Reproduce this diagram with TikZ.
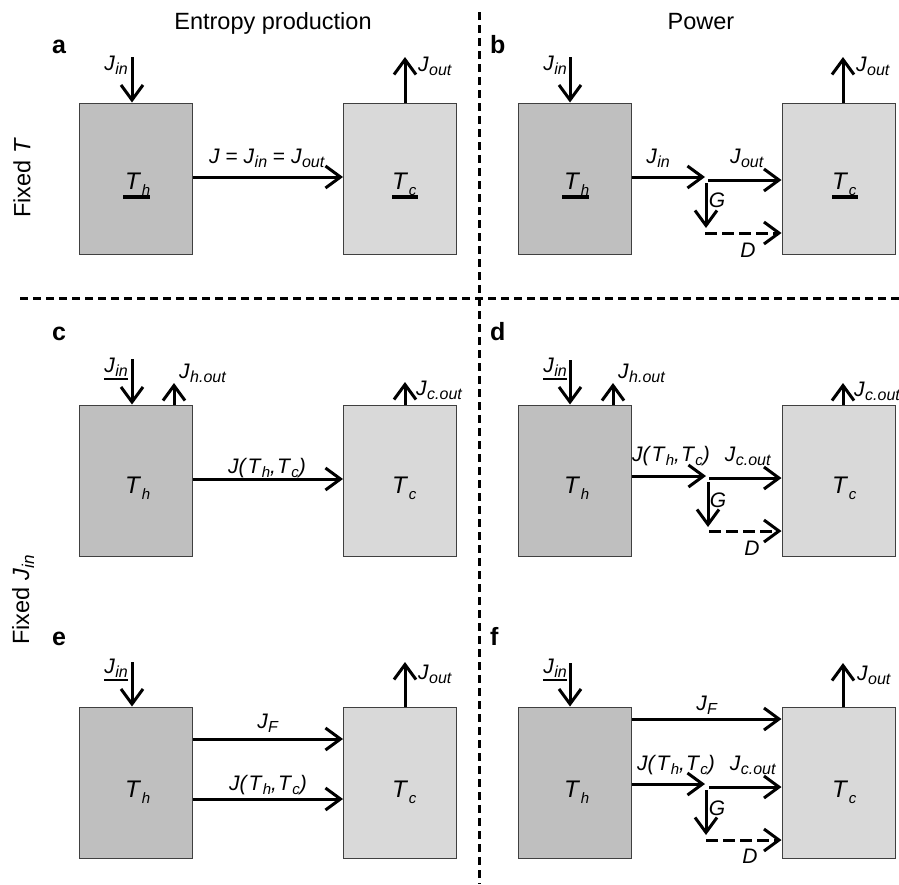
\documentclass[tikz,border=0pt]{standalone}
\usepackage{fontspec}
\setmainfont{Liberation Sans}
\usetikzlibrary{arrows.meta}
\definecolor{hotgray}{HTML}{BFBFBF}
\definecolor{coldgray}{HTML}{D9D9D9}
\newcommand\Jl[1]{\textit{J}\kern0.3pt\raisebox{-4.5pt}{\fontsize{16}{16}\selectfont\textit{#1}}}
\newcommand\Tl[1]{\textit{T}\kern0.5pt\raisebox{-6pt}{\fontsize{15}{15}\selectfont\textit{#1}}}
\newcommand\Ts[1]{\textit{T}\kern0.3pt\raisebox{-4.5pt}{\fontsize{15}{15}\selectfont\textit{#1}}}
\newcommand\JT{\textit{J}\textit{(}\Ts{h}\textit{,}\kern1pt\Ts{c}\textit{)}}
\begin{document}
\begin{tikzpicture}[x=1pt,y=-1pt,
  box/.style={draw=black!75, line width=1pt, minimum width=113pt, minimum height=151pt, inner sep=0pt},
  hot/.style={box, fill=hotgray},
  cold/.style={box, fill=coldgray},
  arr/.style={line width=3pt, -{Straight Barb[length=15pt,width=22pt]}},
  darr/.style={arr, dash pattern=on 12pt off 5pt},
  divider/.style={line width=3pt, dash pattern=on 8pt off 5pt},
  uline/.style={line width=4pt},
  ulinethin/.style={line width=2.5pt},
  lab/.style={font=\fontsize{21}{24}\selectfont, inner sep=0pt},
  tlab/.style={font=\fontsize{24}{26}\selectfont, inner sep=0pt, anchor=base west},
  head/.style={font=\fontsize{23.5}{26}\selectfont, inner sep=0pt},
  plet/.style={font=\fontsize{25}{28}\selectfont\bfseries, inner sep=0pt, anchor=base west}]
\useasboundingbox (0,0) rectangle (899,884);

% headers and side labels
\node[head, anchor=base] (hdl) at (273,29) {Entropy production};
\node[head, anchor=base] (hdr) at (701,29) {Power};
\node[head, rotate=90] (sideT) at (22,178) {Fixed \textit{T}};
\node[head, rotate=90] (sideJ) at (23,600) {Fixed \textit{J}\kern0.3pt\raisebox{-5pt}{\fontsize{17}{17}\selectfont\textit{in}}};

% dividers
\coordinate (hl1) at (20,298); \coordinate (hl2) at (899,298);
\coordinate (vl1) at (479,12); \coordinate (vl2) at (479,884);
\draw[divider] (hl1) -- (hl2);
\draw[divider] (vl1) -- (vl2);

% panel letters
\node[plet] (la) at (52,53) {a};
\node[plet] (lb) at (490,53) {b};
\node[plet] (lc) at (52,340) {c};
\node[plet] (ld) at (490,340) {d};
\node[plet] (le) at (52,645) {e};
\node[plet] (lf) at (490,645) {f};

% ================= panel a
\node[hot] (ha) at (135.5,178.5) {};
\node[cold] (ca) at (400,178.5) {};
\node[tlab] (tha) at (125,189) {\Tl{h}};
\node[tlab] (tca) at (392,189) {\Tl{c}};
\draw[uline] ([xshift=-2pt,yshift=-8pt]tha.base west) -- ++(27,0);
\draw[uline] ([yshift=-8pt]tca.base west) -- ++(26,0);
\coordinate (ina) at (132,57);
\coordinate (outa) at (405,57);
\draw[arr] (ina) -- (ina |- ha.north);
\draw[arr] (outa |- ca.north) -- (outa);
\node[lab, anchor=base east] (jina) at (128,70) {\Jl{in}};
\node[lab, anchor=base west] (jouta) at (418,71) {\Jl{out}};
\coordinate (ma) at (0,177);
\draw[arr] (ha.east |- ma) -- (ca.west |- ma);
\node[lab, anchor=base] (mla) at (267,163) {\textit{J} = \Jl{in} = \Jl{out}};

% ================= panel b
\node[hot] (hb) at (574.5,178.5) {};
\node[cold] (cb) at (838.5,178.5) {};
\node[tlab] (thb) at (564,189) {\Tl{h}};
\node[tlab] (tcb) at (832,189) {\Tl{c}};
\draw[uline] ([xshift=-2pt,yshift=-8pt]thb.base west) -- ++(27,0);
\draw[uline] ([yshift=-8pt]tcb.base west) -- ++(26,0);
\coordinate (inb) at (570,57);
\coordinate (outb) at (843,57);
\draw[arr] (inb) -- (inb |- hb.north);
\draw[arr] (outb |- cb.north) -- (outb);
\node[lab, anchor=base east] (jinb) at (567,70) {\Jl{in}};
\node[lab, anchor=base west] (joutb) at (856,71) {\Jl{out}};
\coordinate (b1) at (705,177);
\coordinate (b2) at (708,180);
\coordinate (bg1) at (706,183);
\coordinate (bg2) at (706,228);
\coordinate (bd) at (705,233);
\draw[arr] (hb.east |- b1) -- (b1);
\draw[arr] (b2) -- (cb.west |- b2);
\draw[arr] (bg1) -- (bg2);
\draw[darr] (bd) -- (cb.west |- bd);
\node[lab, anchor=base] (lb1) at (658,163) {\Jl{in}};
\node[lab, anchor=base] (lb2) at (747,163) {\Jl{out}};
\node[lab, anchor=base] (lbg) at (717,207) {\textit{G}};
\node[lab, anchor=base] (lbd) at (748,257) {\textit{D}};

% ================= panel c
\node[hot] (hc) at (135.5,480.5) {};
\node[cold] (cc) at (400,480.5) {};
\node[tlab] (thc) at (125,493) {\Tl{h}};
\node[tlab] (tcc) at (392,493) {\Tl{c}};
\coordinate (inc) at (132,359);
\coordinate (hoc) at (174,383);
\coordinate (coc) at (405,382);
\draw[arr] (inc) -- (inc |- hc.north);
\draw[arr] (hoc |- hc.north) -- (hoc);
\draw[arr] (coc |- cc.north) -- (coc);
\node[lab, anchor=base east] (jinc) at (128,372) {\Jl{in}};
\draw[ulinethin] ([yshift=-7pt]jinc.base east) -- ([yshift=-7pt]jinc.base west);
\node[lab, anchor=base west] (jhoc) at (179,378) {\Jl{h.out}};
\node[lab, anchor=base west] (jcoc) at (416,395) {\Jl{c.out}};
\coordinate (mc) at (0,479);
\draw[arr] (hc.east |- mc) -- (cc.west |- mc);
\node[lab, anchor=base] (mlc) at (267,473) {\JT};

% ================= panel d
\node[hot] (hd) at (574.5,480.5) {};
\node[cold] (cd) at (838.5,480.5) {};
\node[tlab] (thd) at (564,493) {\Tl{h}};
\node[tlab] (tcd) at (832,493) {\Tl{c}};
\coordinate (ind) at (570,360);
\coordinate (hod) at (613,383);
\coordinate (cod) at (843,383);
\draw[arr] (ind) -- (ind |- hd.north);
\draw[arr] (hod |- hd.north) -- (hod);
\draw[arr] (cod |- cd.north) -- (cod);
\node[lab, anchor=base east] (jind) at (567,372) {\Jl{in}};
\draw[ulinethin] ([yshift=-7pt]jind.base east) -- ([yshift=-7pt]jind.base west);
\node[lab, anchor=base west] (jhod) at (618,378) {\Jl{h.out}};
\node[lab, anchor=base west] (jcod) at (854,396) {\Jl{c.out}};
\coordinate (d1) at (706,476);
\coordinate (d2) at (709,478);
\coordinate (dg1) at (708,482);
\coordinate (dg2) at (708,527);
\coordinate (dd) at (709,531);
\draw[arr] (hd.east |- d1) -- (d1);
\draw[arr] (d2) -- (cd.west |- d2);
\draw[arr] (dg1) -- (dg2);
\draw[darr] (dd) -- (cd.west |- dd);
\node[lab, anchor=base] (ld1) at (671,461) {\JT};
\node[lab, anchor=base] (ld2) at (748,461) {\Jl{c.out}};
\node[lab, anchor=base] (ldg) at (718,507) {\textit{G}};
\node[lab, anchor=base] (ldd) at (752,555) {\textit{D}};

% ================= panel e
\node[hot] (he) at (135.5,782.5) {};
\node[cold] (ce) at (400,782.5) {};
\node[tlab] (the) at (125,797) {\Tl{h}};
\node[tlab] (tce) at (392,797) {\Tl{c}};
\coordinate (ine) at (132,662);
\coordinate (oute) at (405,662);
\draw[arr] (ine) -- (ine |- he.north);
\draw[arr] (oute |- ce.north) -- (oute);
\node[lab, anchor=base east] (jine) at (128,673) {\Jl{in}};
\draw[ulinethin] ([yshift=-7pt]jine.base east) -- ([yshift=-7pt]jine.base west);
\node[lab, anchor=base west] (joute) at (418,679) {\Jl{out}};
\coordinate (eF) at (0,739);
\coordinate (eJ) at (0,799);
\draw[arr] (he.east |- eF) -- (ce.west |- eF);
\draw[arr] (he.east |- eJ) -- (ce.west |- eJ);
\node[lab, anchor=base] (le1) at (268,728) {\Jl{F}};
\node[lab, anchor=base] (le2) at (268,790) {\JT};

% ================= panel f
\node[hot] (hf) at (574.5,782.5) {};
\node[cold] (cf) at (838.5,782.5) {};
\node[tlab] (thf) at (564,797) {\Tl{h}};
\node[tlab] (tcf) at (832,797) {\Tl{c}};
\coordinate (inf) at (570,663);
\coordinate (outf) at (843,663);
\draw[arr] (inf) -- (inf |- hf.north);
\draw[arr] (outf |- cf.north) -- (outf);
\node[lab, anchor=base east] (jinf) at (567,673) {\Jl{in}};
\draw[ulinethin] ([yshift=-7pt]jinf.base east) -- ([yshift=-7pt]jinf.base west);
\node[lab, anchor=base west] (joutf) at (857,680) {\Jl{out}};
\coordinate (fF) at (0,719);
\coordinate (f1) at (705,784);
\coordinate (f2) at (709,787);
\coordinate (fg1) at (706,790);
\coordinate (fg2) at (706,835);
\coordinate (fd) at (706,840);
\draw[arr] (hf.east |- fF) -- (cf.west |- fF);
\draw[arr] (hf.east |- f1) -- (f1);
\draw[arr] (f2) -- (cf.west |- f2);
\draw[arr] (fg1) -- (fg2);
\draw[darr] (fd) -- (cf.west |- fd);
\node[lab, anchor=base] (lf0) at (707,710) {\Jl{F}};
\node[lab, anchor=base] (lf1) at (676,770) {\JT};
\node[lab, anchor=base] (lf2) at (753,770) {\Jl{c.out}};
\node[lab, anchor=base] (lfg) at (717,815) {\textit{G}};
\node[lab, anchor=base] (lfd) at (750,863) {\textit{D}};
\end{tikzpicture}
\end{document}
